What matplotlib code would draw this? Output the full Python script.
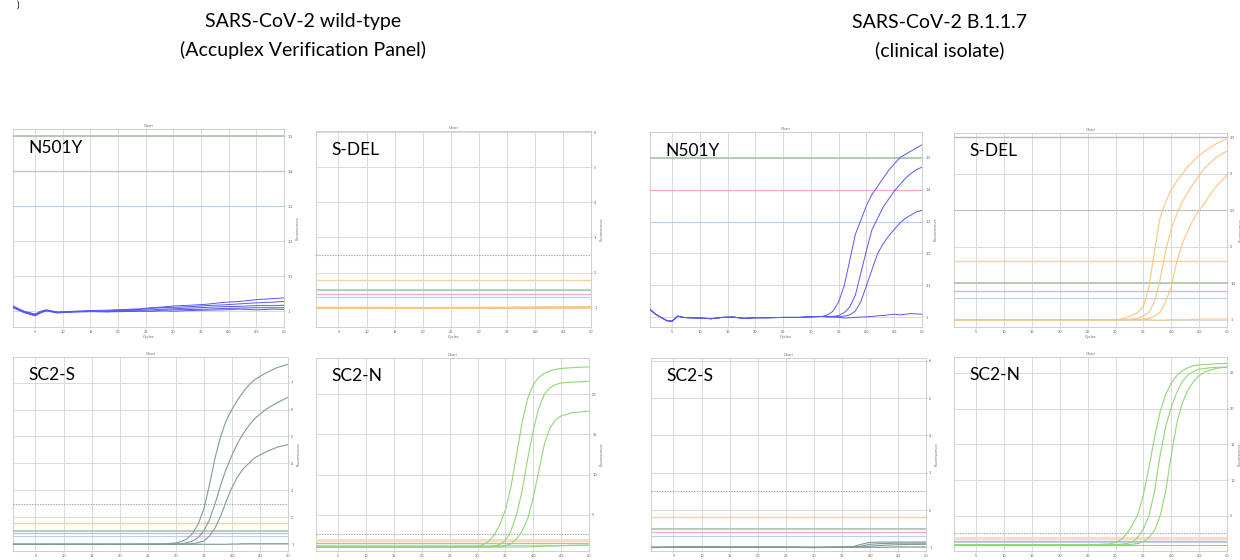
import matplotlib
matplotlib.use("Agg")
import matplotlib.pyplot as plt
from matplotlib.ticker import MultipleLocator

plt.rcParams['font.family'] = ['Lato', 'DejaVu Sans']

# ---------------- titles / labels ----------------
left_title = ["SARS-CoV-2 wild-type", "(Accuplex Verification Panel)"]
right_title = ["SARS-CoV-2 B.1.1.7", "(clinical isolate)"]
panel_labels = ["N501Y", "S-DEL", "SC2-S", "SC2-N", "N501Y", "S-DEL", "SC2-S", "SC2-N"]

# ---------------- Panel 1: N501Y wild-type ----------------
p1_cyc = [1, 3, 5, 6, 7, 9, 12, 15, 18, 21, 24, 26, 28, 30, 33, 36, 39, 42, 45, 48, 50]
p1_a = [1.015, 1.0, 0.992, 1.0, 1.004, 0.998, 1.0, 1.002, 1.003, 1.005, 1.007, 1.01, 1.012, 1.015, 1.017, 1.02, 1.025, 1.028, 1.033, 1.036, 1.038]
p1_b = [1.013, 0.999, 0.99, 0.998, 1.003, 0.997, 0.999, 1.0, 1.001, 1.004, 1.005, 1.008, 1.01, 1.011, 1.013, 1.016, 1.018, 1.021, 1.024, 1.026, 1.028]
p1_c = [1.012, 0.998, 0.989, 0.997, 1.002, 0.996, 0.999, 1.0, 1.0, 1.002, 1.003, 1.004, 1.006, 1.007, 1.009, 1.011, 1.013, 1.014, 1.016, 1.016, 1.017]
p1_d = [1.011, 0.997, 0.988, 0.996, 1.002, 0.996, 0.998, 0.999, 0.999, 1.0, 1.001, 1.0, 1.003, 1.004, 1.005, 1.006, 1.008, 1.009, 1.01, 1.01, 1.01]
p1_e = [1.01, 0.996, 0.987, 0.995, 1.001, 0.995, 0.998, 0.999, 0.998, 0.999, 1.0, 1.0, 1.001, 1.0, 1.002, 1.003, 1.004, 1.006, 1.004, 1.006, 1.005]

# ---------------- Panel 2: S-DEL wild-type ----------------
p2_cyc = [1, 10, 20, 30, 40, 45, 50]
p2_a = [1.0, 1.0, 1.0, 1.0, 1.01, 1.02, 1.02]
p2_b = [0.99, 0.99, 0.99, 0.99, 1.0, 1.0, 1.01]
p2_c = [1.0, 1.0, 0.995, 1.0, 1.0, 1.01, 1.01]

# ---------------- Panel 3: SC2-S wild-type ----------------
p3_cyc = [1, 10, 20, 28, 30, 31, 32, 33, 34, 35, 36, 37, 38, 39, 40, 41, 42, 43, 44, 46, 48, 50]
p3_a = [1.0, 1.0, 1.0, 1.01, 1.05, 1.1, 1.2, 1.4, 1.75, 2.3, 3.2, 4.2, 5.0, 5.6, 6.0, 6.35, 6.65, 6.9, 7.1, 7.35, 7.55, 7.68]
p3_b = [1.0, 1.0, 1.0, 1.0, 1.01, 1.02, 1.06, 1.12, 1.25, 1.5, 1.9, 2.5, 3.2, 3.8, 4.3, 4.75, 5.1, 5.4, 5.65, 6.0, 6.25, 6.45]
p3_c = [1.0, 1.0, 1.0, 1.0, 1.0, 1.0, 1.01, 1.02, 1.06, 1.12, 1.3, 1.6, 2.05, 2.6, 3.1, 3.5, 3.8, 4.0, 4.2, 4.42, 4.6, 4.7]
p3_d = [1.0, 1.0, 1.0, 1.0, 1.0, 1.0, 1.0, 1.0, 1.0, 1.0, 1.0, 1.0, 1.0, 1.0, 1.01, 1.01, 1.02, 1.02, 1.02, 1.02, 1.02, 1.02]

# ---------------- Panel 4: SC2-N wild-type ----------------
p4_cyc = [1, 20, 29, 30, 31, 32, 33, 34, 35, 36, 37, 38, 39, 40, 41, 42, 43, 44, 45, 47, 50]
p4_a = [1.0, 1.0, 1.02, 1.1, 1.3, 1.7, 2.5, 3.8, 5.6, 8.5, 12.5, 16.5, 19.5, 21.2, 22.1, 22.6, 22.9, 23.1, 23.2, 23.3, 23.4]
p4_b = [1.0, 1.0, 1.0, 1.0, 1.02, 1.05, 1.12, 1.3, 1.8, 3.0, 5.0, 8.0, 12.0, 15.5, 18.3, 20.0, 20.8, 21.2, 21.4, 21.5, 21.6]
p4_c = [1.0, 1.0, 1.0, 1.0, 1.0, 1.0, 1.02, 1.05, 1.15, 1.4, 2.0, 3.0, 4.5, 7.2, 10.5, 13.8, 15.8, 16.8, 17.3, 17.7, 17.9]
p4_d = [0.95, 0.98, 1.0, 1.0, 1.0, 1.0, 1.0, 1.0, 1.0, 1.0, 1.0, 1.0, 1.0, 1.05, 1.05, 1.1, 1.1, 1.1, 1.15, 1.2, 1.25]

# ---------------- Panel 5: N501Y B.1.1.7 ----------------
p5_base_cyc = [1, 2, 3, 4, 5, 6, 7, 8, 10, 12, 14, 16, 18, 20, 22, 25, 28, 30, 32]
p5_base_val = [1.025, 1.01, 1.0, 0.99, 0.988, 1.004, 1.0, 0.999, 0.998, 0.996, 1.0, 1.001, 0.997, 0.999, 0.999, 1.0, 1.0, 1.002, 1.003]
p5_tail_cyc = [33, 34, 35, 36, 37, 38, 39, 40, 41, 42, 43, 44, 45, 46, 47, 48, 49, 50]
p5_a = [1.008, 1.02, 1.049, 1.1, 1.18, 1.26, 1.305, 1.35, 1.385, 1.41, 1.435, 1.46, 1.48, 1.5, 1.51, 1.52, 1.53, 1.54]
p5_b = [1.002, 1.003, 1.006, 1.015, 1.033, 1.07, 1.14, 1.21, 1.275, 1.31, 1.345, 1.37, 1.395, 1.415, 1.435, 1.45, 1.462, 1.47]
p5_c = [1.002, 1.003, 1.002, 1.004, 1.008, 1.02, 1.05, 1.1, 1.15, 1.2, 1.23, 1.255, 1.275, 1.295, 1.31, 1.32, 1.33, 1.335]
p5_d = [1.002, 1.001, 1.0, 0.998, 0.999, 1.0, 1.001, 1.002, 1.003, 1.005, 1.006, 1.008, 1.01, 1.008, 1.01, 1.012, 1.011, 1.01]

# ---------------- Panel 6: S-DEL B.1.1.7 ----------------
p6_cyc = [1, 10, 20, 30, 31, 32, 33, 34, 35, 36, 37, 38, 39, 40, 41, 42, 43, 44, 45, 46, 47, 48, 49, 50]
p6_a = [1.0, 1.0, 1.0, 1.0, 1.01, 1.03, 1.06, 1.1, 1.18, 1.45, 1.95, 2.4, 2.62, 2.78, 2.9, 3.0, 3.1, 3.18, 3.25, 3.31, 3.36, 3.41, 3.45, 3.48]
p6_b = [1.0, 1.0, 1.0, 1.0, 1.0, 1.0, 1.01, 1.02, 1.05, 1.1, 1.25, 1.55, 1.95, 2.25, 2.45, 2.62, 2.75, 2.87, 2.98, 3.08, 3.15, 3.22, 3.27, 3.31]
p6_c = [1.0, 1.0, 1.0, 1.0, 1.0, 1.0, 1.0, 1.0, 1.01, 1.02, 1.05, 1.1, 1.25, 1.45, 1.8, 2.05, 2.22, 2.38, 2.5, 2.6, 2.72, 2.82, 2.9, 2.98]
p6_d = [1.0, 1.0, 1.0, 1.0, 1.0, 1.0, 1.0, 1.0, 1.0, 1.0, 0.995, 0.995, 0.995, 1.0, 1.0, 1.0, 1.0, 1.005, 1.005, 1.01, 1.01, 1.01, 1.01, 1.01]

# ---------------- Panel 7: SC2-S B.1.1.7 ----------------
p7_cyc = [1, 5, 10, 15, 20, 25, 30, 35, 36, 37, 38, 39, 40, 42, 45, 50]
p7_a = [1.0, 1.01, 1.02, 1.01, 1.0, 1.01, 1.0, 1.01, 1.01, 1.02, 1.06, 1.1, 1.13, 1.14, 1.14, 1.14]
p7_b = [1.0, 1.0, 1.01, 1.0, 1.01, 1.0, 1.0, 1.0, 1.01, 1.01, 1.02, 1.05, 1.08, 1.1, 1.11, 1.11]
p7_c = [1.0, 1.0, 1.0, 1.0, 1.0, 1.0, 1.0, 1.0, 1.0, 1.0, 1.01, 1.01, 1.03, 1.05, 1.07, 1.08]
p7_d = [0.99, 1.0, 1.0, 1.0, 1.0, 1.0, 0.99, 1.0, 1.0, 1.0, 1.0, 1.0, 1.0, 1.0, 1.01, 1.01]

# ---------------- Panel 8: SC2-N B.1.1.7 ----------------
p8_cyc = [1, 20, 27, 28, 29, 30, 31, 32, 33, 34, 35, 36, 37, 38, 39, 40, 41, 42, 43, 44, 45, 46, 47, 48, 50]
p8_a = [1.0, 1.0, 1.02, 1.05, 1.1, 1.3, 1.7, 2.5, 3.7, 5.2, 8.0, 11.8, 16.0, 19.6, 22.0, 23.6, 24.6, 25.3, 25.7, 26.0, 26.1, 26.15, 26.2, 26.25, 26.3]
p8_b = [1.0, 1.0, 1.0, 1.0, 1.0, 1.0, 1.05, 1.15, 1.4, 2.0, 3.2, 5.0, 8.5, 13.5, 17.5, 20.2, 22.3, 23.8, 24.7, 25.2, 25.5, 25.6, 25.7, 25.75, 25.8]
p8_c = [1.0, 1.0, 1.0, 1.0, 1.0, 1.0, 1.0, 1.0, 1.05, 1.15, 1.4, 2.0, 3.0, 5.0, 8.5, 13.5, 18.0, 20.8, 22.6, 23.8, 24.6, 25.1, 25.35, 25.6, 25.8]
p8_d = [1.0] * 25

# ---------------- tick values ----------------
x_ticks = [5, 10, 15, 20, 25, 30, 35, 40, 45, 50]
yt_n501y = [1.0, 1.1, 1.2, 1.3, 1.4, 1.5]
yl_n501y = ["1", "1.1", "1.2", "1.3", "1.4", "1.5"]
yt_sdel_wt = [1, 2, 3, 4, 5, 6]
yt_sc2s_wt = [1, 2, 3, 4, 5, 6, 7]
yt_sc2n_wt = [5, 10, 15, 20]
yt_sdel_b = [1, 1.5, 2, 2.5, 3, 3.5]
yl_sdel_b = ["1", "1.5", "2", "2.5", "3", "3.5"]
yt_sc2s_b = [1, 2, 3, 4, 5, 6]
yt_sc2n_b = [5, 10, 15, 20, 25]

# threshold levels (value, kind)
th_n501y = [(1.5, "green"), (1.4, "pink"), (1.3, "blue")]
th_other = [(2.5, "dot"), (1.8, "orange"), (1.5, "green"), (1.4, "pink"), (1.3, "blue")]
th_sdel_b = [(3.5, "gray"), (2.5, "dot"), (1.8, "orange"), (1.5, "green"), (1.4, "pink"), (1.3, "blue")]
th_big = [(2.6, "dot"), (1.9, "orangeband"), (1.5, "gray"), (1.3, "blue")]

TH_STYLE = {
    "green": dict(color="#a9c6a9", lw=1.2, ls="-"),
    "pink": dict(color="#f3a8c9", lw=0.9, ls="-"),
    "blue": dict(color="#b8d0f2", lw=0.8, ls="-"),
    "orange": dict(color="#ffcf9e", lw=1.0, ls="-"),
    "orangeband": dict(color="#fcd9b8", lw=2.0, ls="-"),
    "gray": dict(color="#b8bcbc", lw=1.0, ls="-"),
    "dot": dict(color="#9aa79a", lw=0.8, ls=(0, (1.2, 1.2))),
}

W, H = 1240, 560
fig = plt.figure(figsize=(W / 100, H / 100), dpi=100)

BLUE = "#5858ee"
ORANGE = "#ffc47f"
GRAY = "#7f9a9c"
GREEN = "#92d67a"


def panel(box, ylim, yticks, ylabels, thresholds, series, color, label, lw=0.8, bottom_row=False):
    l, r, t, b = box
    ax = fig.add_axes([l / W, 1 - b / H, (r - l) / W, (b - t) / H])
    ax.set_xlim(1, 50)
    ax.set_ylim(*ylim)
    ax.set_xticks(x_ticks)
    ax.xaxis.set_minor_locator(MultipleLocator(1))
    ax.set_yticks(yticks)
    ax.set_yticklabels(ylabels if ylabels is not None else [str(v) for v in yticks])
    ax.yaxis.tick_right()
    ax.yaxis.set_label_position("right")
    ax.tick_params(axis="both", which="major", labelsize=2.8, length=1.5, width=0.3,
                   colors="#9a9a9a", labelcolor="#606060", pad=0.8)
    ax.tick_params(axis="both", which="minor", length=0.8, width=0.2, colors="#b0b0b0")
    ax.set_axisbelow(True)
    ax.grid(True, which="major", color="#dadada", lw=0.7)
    for s in ax.spines.values():
        s.set_color("#c8c8c8")
        s.set_linewidth(0.6)
    for val, kind in thresholds:
        ax.axhline(val, zorder=2.6, **TH_STYLE[kind])
    for xs, ys in series:
        ax.plot(xs, ys, color=color, lw=lw, zorder=3)
    ax.set_title("Chart", fontsize=3, color="#707070", pad=1.5)
    if not bottom_row:
        ax.set_xlabel("Cycles", fontsize=3, color="#707070", labelpad=0.5)
    ax.set_ylabel("Fluorescence", fontsize=3, color="#707070", labelpad=2)
    ax.text(0.055, 0.905, label, transform=ax.transAxes, fontsize=12.5,
            family=["Lato", "DejaVu Sans"], color="black", va="center", ha="left", zorder=5)
    return ax


panel((13, 284, 129, 327), (0.955, 1.52), yt_n501y, yl_n501y, th_n501y,
      [(p1_cyc, p1_a), (p1_cyc, p1_b), (p1_cyc, p1_c), (p1_cyc, p1_d), (p1_cyc, p1_e)],
      BLUE, panel_labels[0], lw=0.7)
panel((316, 591, 131, 327), (0.45, 6.03), yt_sdel_wt, None, th_other,
      [(p2_cyc, p2_a), (p2_cyc, p2_b), (p2_cyc, p2_c)], ORANGE, panel_labels[1], lw=1.2)
panel((13, 288, 357, 551), (0.75, 7.95), yt_sc2s_wt, None, th_other,
      [(p3_cyc, p3_d), (p3_cyc, p3_a), (p3_cyc, p3_b), (p3_cyc, p3_c)], GRAY, panel_labels[2],
      bottom_row=True)
panel((316, 589, 358, 551), (0.5, 24.5), yt_sc2n_wt, None, th_big,
      [(p4_cyc, p4_d), (p4_cyc, p4_a), (p4_cyc, p4_b), (p4_cyc, p4_c)], GREEN, panel_labels[3],
      bottom_row=True)
panel((650, 922, 132, 327), (0.97, 1.58), yt_n501y, yl_n501y, th_n501y,
      [(p5_base_cyc + p5_tail_cyc, p5_base_val + p5_a),
       (p5_base_cyc + p5_tail_cyc, p5_base_val + p5_b),
       (p5_base_cyc + p5_tail_cyc, p5_base_val + p5_c),
       (p5_base_cyc + p5_tail_cyc, p5_base_val + p5_d)], BLUE, panel_labels[4], lw=0.7)
panel((954, 1227, 133, 327), (0.9, 3.56), yt_sdel_b, yl_sdel_b, th_sdel_b,
      [(p6_cyc, p6_d), (p6_cyc, p6_a), (p6_cyc, p6_b), (p6_cyc, p6_c)], ORANGE, panel_labels[5])
panel((651, 926, 358, 551), (0.9, 6.08), yt_sc2s_b, None, th_other,
      [(p7_cyc, p7_a), (p7_cyc, p7_b), (p7_cyc, p7_c), (p7_cyc, p7_d)], GRAY, panel_labels[6],
      bottom_row=True)
panel((954, 1227, 357, 551), (0.1, 27.2), yt_sc2n_b, None, th_big,
      [(p8_cyc, p8_d), (p8_cyc, p8_a), (p8_cyc, p8_b), (p8_cyc, p8_c)], GREEN, panel_labels[7],
      bottom_row=True)

# column headings
fig.text(303 / W, 1 - 22 / H, left_title[0], ha="center", va="center", fontsize=14)
fig.text(303 / W, 1 - 50 / H, left_title[1], ha="center", va="center", fontsize=14)
fig.text(940 / W, 1 - 22 / H, right_title[0], ha="center", va="center", fontsize=14)
fig.text(940 / W, 1 - 50 / H, right_title[1], ha="center", va="center", fontsize=14)

# fragment of the panel letter at the very top-left
fig.text(18 / W, 1 - 1 / H, ")", ha="center", va="top", fontsize=7)

fig.savefig("out.png", dpi=100, facecolor="white")
